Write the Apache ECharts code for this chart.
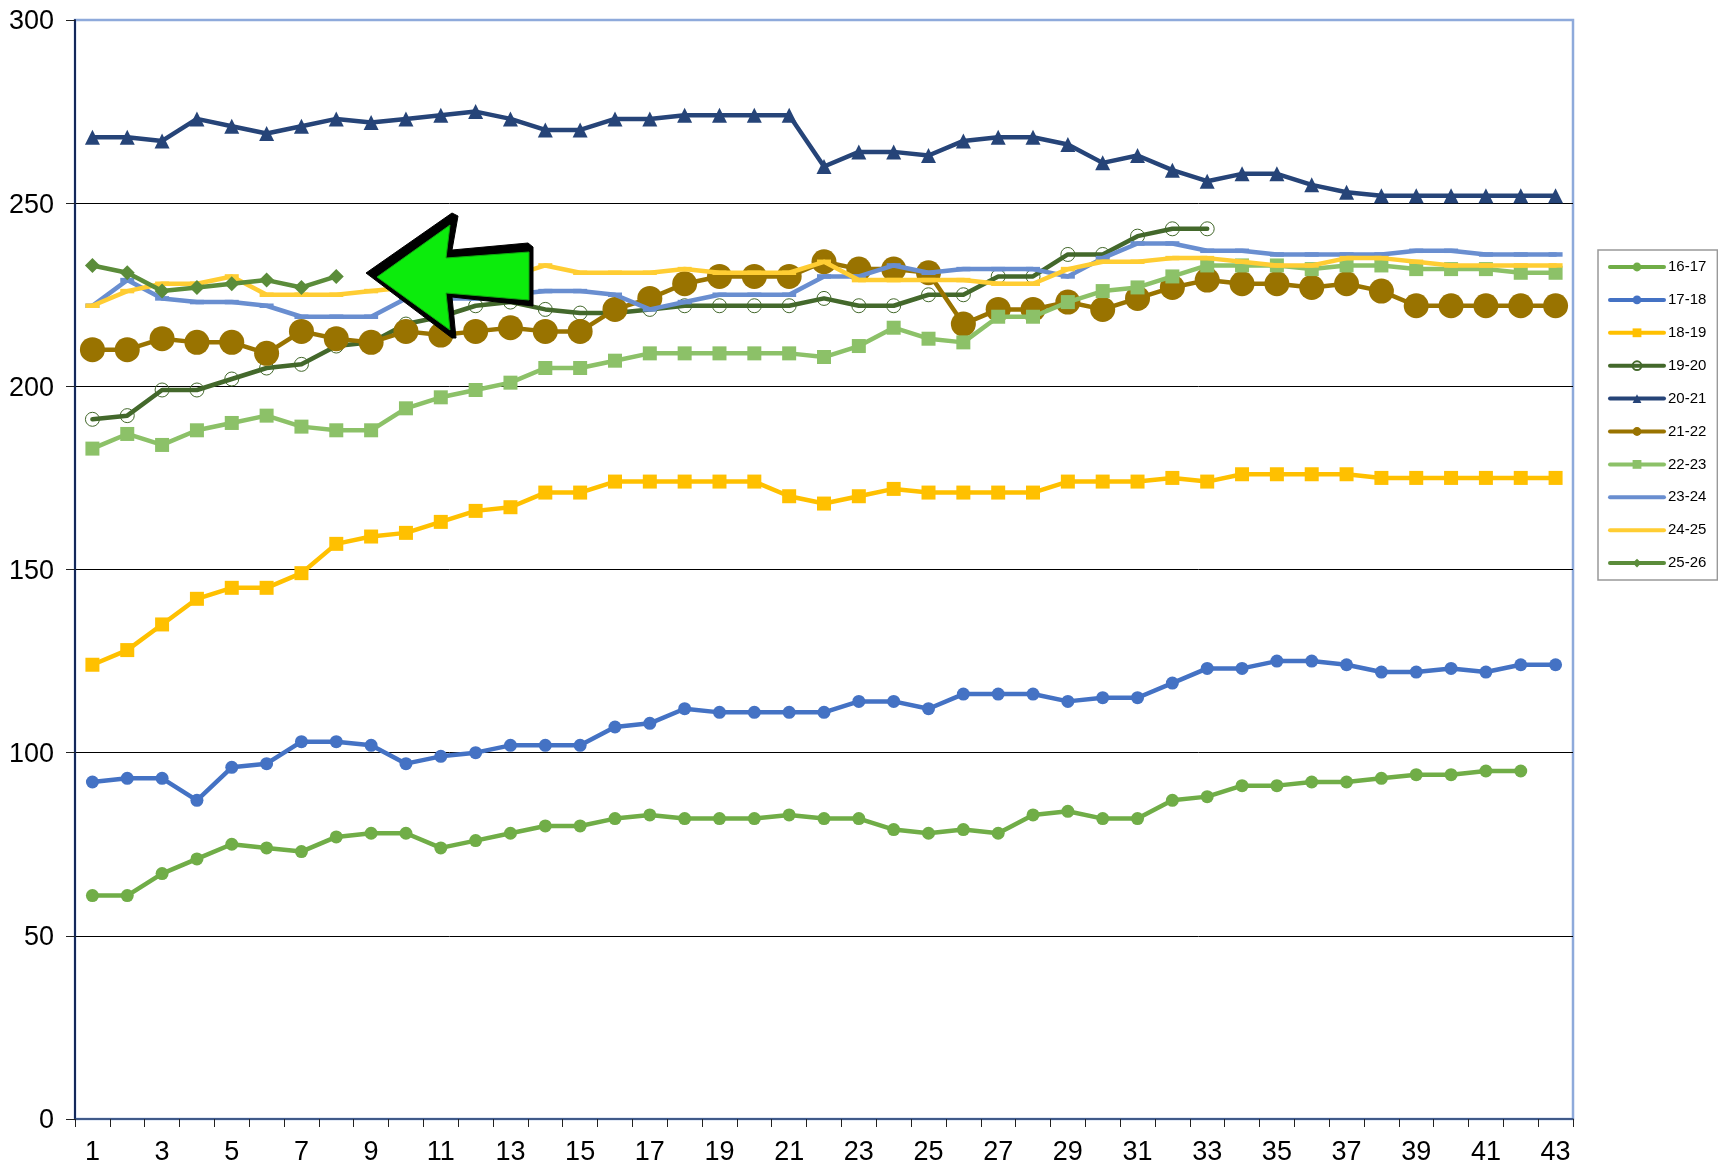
<!DOCTYPE html>
<html>
<head>
<meta charset="utf-8">
<title>chart</title>
<script src="https://cdn.jsdelivr.net/npm/echarts@6/dist/echarts.min.js"></script>
<style>
  html, body { margin: 0; padding: 0; background: #fff; }
  #main { width: 1718px; height: 1167px; }
</style>
</head>
<body>
<div id="main"></div>
<script>
var weeks = [];
for (var w = 1; w <= 43; w++) weeks.push(String(w));

var yTicks = { min: 0, max: 300, interval: 50 };

var s1617 = [61,61,67,71,75,74,73,77,78,78,74,76,78,80,80,82,83,82,82,82,83,82,82,79,78,79,78,83,84,82,82,87,88,91,91,92,92,93,94,94,95,95];
var s1718 = [92,93,93,87,96,97,103,103,102,97,99,100,102,102,102,107,108,112,111,111,111,111,114,114,112,116,116,116,114,115,115,119,123,123,125,125,124,122,122,123,122,124,124];
var s1819 = [124,128,135,142,145,145,149,157,159,160,163,166,167,171,171,174,174,174,174,174,170,168,170,172,171,171,171,171,174,174,174,175,174,176,176,176,176,175,175,175,175,175,175];
var s1920 = [191,192,199,199,202,205,206,211,212,217,219,222,223,221,220,220,221,222,222,222,222,224,222,222,225,225,230,230,236,236,241,243,243];
var s2021 = [268,268,267,273,271,269,271,273,272,273,274,275,273,270,270,273,273,274,274,274,274,260,264,264,263,267,268,268,266,261,263,259,256,258,258,255,253,252,252,252,252,252,252];
var s2122 = [210,210,213,212,212,209,215,213,212,215,214,215,216,215,215,221,224,228,230,230,230,234,232,232,231,217,221,221,223,221,224,227,229,228,228,227,228,226,222,222,222,222,222];
var s2223 = [183,187,184,188,190,192,189,188,188,194,197,199,201,205,205,207,209,209,209,209,209,208,211,216,213,212,219,219,223,226,227,230,233,233,233,232,233,233,232,232,232,231,231];
var s2324 = [222,229,224,223,223,222,219,219,219,224,224,224,225,226,226,225,221,223,225,225,225,230,230,233,231,232,232,232,230,235,239,239,237,237,236,236,236,236,237,237,236,236,236];
var s2425 = [222,226,228,228,230,225,225,225,226,227,227,228,230,233,231,231,231,232,231,231,231,234,229,229,229,229,228,228,232,234,234,235,235,234,233,233,235,235,234,233,233,233,233];
var s2526 = [233,231,226,227,228,229,227,230];

var seasons = ['16-17','17-18','18-19','19-20','20-21','21-22','22-23','23-24','24-25','25-26'];

// arrow drawn over the chart, page pixels
var arrowOuter = [[366,273],[452,213],[458,216],[452,250],[528,243],[533,247],[533,306],[452,297],[456,338],[452,338]];
var arrowInner = [[377,277],[450,225],[446,258],[529,252],[529,300],[446,293],[450,330]];

var nextZ = 3;
function line(name, data, color, symbol, size, extra) {
    var s = {
        name: name,
        type: 'line',
        // each series gets its own z, so a later line runs over earlier markers
        z: nextZ++,
        data: data,
        symbol: symbol,
        symbolSize: size,
        showSymbol: true,
        showAllSymbol: true,
        smooth: false,
        animation: false,
        lineStyle: { color: color, width: 4.5, cap: 'round', join: 'round' },
        itemStyle: { color: color }
    };
    return Object.assign(s, extra || {});
}

var chart = echarts.init(document.getElementById('main'));
var option = {
    backgroundColor: '#fff',
    animation: false,
    textStyle: { fontFamily: 'Liberation Sans' },
    grid: {
        left: 75,
        top: 20,
        width: 1498,
        height: 1099,
        show: true,
        borderColor: '#8eaadb',
        borderWidth: 2.5
    },
    legend: {
        orient: 'vertical',
        left: 1598,
        top: 250,
        width: 118,
        height: 340,
        padding: [9.5, 11, 9.5, 10],
        itemWidth: 54,
        itemHeight: 11,
        itemGap: 17.9,
        borderColor: '#999',
        borderWidth: 1.5,
        lineStyle: { width: 4 },
        data: seasons.map(function (name) {
            // the two plain lines carry no visible marker in the key
            if (name === '23-24' || name === '24-25') {
                return { name: name, itemStyle: { color: 'transparent', borderColor: 'transparent' } };
            }
            return { name: name };
        }),
        textStyle: { fontSize: 15, color: '#000', fontFamily: 'Liberation Sans', padding: [0, 0, 0, -1] }
    },
    xAxis: {
        type: 'category',
        data: weeks,
        boundaryGap: true,
        axisLine: { lineStyle: { color: '#27406f', width: 1.5 } },
        axisTick: { show: true, interval: 0, length: 8, lineStyle: { color: '#222', width: 1 } },
        axisLabel: { interval: 1, fontSize: 27, color: '#000', margin: 20 },
        splitLine: { show: false }
    },
    yAxis: {
        type: 'value',
        min: yTicks.min,
        max: yTicks.max,
        interval: yTicks.interval,
        axisLine: { show: true, lineStyle: { color: '#14285a', width: 2 } },
        axisTick: { show: true, length: 9, lineStyle: { color: '#222', width: 1 } },
        // top-aligned with a negative pad: sits about 2px below the gridline, as in the original
        axisLabel: { fontSize: 27, color: '#000', margin: 21, verticalAlign: 'top', padding: [-11.5, 0, 0, 0] },
        splitLine: { show: true, showMinLine: false, showMaxLine: false, lineStyle: { color: '#000', width: 1 } }
    },
    series: [
        line(seasons[0], s1617, '#70ad47', 'circle', 13),
        line(seasons[1], s1718, '#4472c4', 'circle', 13),
        line(seasons[2], s1819, '#ffc000', 'rect', 14),
        line(seasons[3], s1920, '#43682b', 'circle', 14, {
            itemStyle: { color: 'transparent', borderColor: '#43682b', borderWidth: 1 }
        }),
        line(seasons[4], s2021, '#264478', 'triangle', 15),
        line(seasons[5], s2122, '#997300', 'circle', 25),
        line(seasons[6], s2223, '#8cc168', 'rect', 14),
        line(seasons[7], s2324, '#698ed0', 'rect', [14, 4.5]),
        line(seasons[8], s2425, '#ffcd33', 'rect', [14, 4.5]),
        line(seasons[9], s2526, '#5b8c3a', 'diamond', 15)
    ],
    graphic: [{
        type: 'polygon',
        z: 100,
        shape: { points: arrowOuter },
        style: { fill: '#000', stroke: '#000', lineWidth: 1, lineJoin: 'round' }
    }, {
        type: 'polygon',
        z: 101,
        shape: { points: arrowInner },
        style: { fill: '#0cec0c', stroke: '#0fa80f', lineWidth: 1 }
    }]
};
chart.setOption(option);
window.onresize = function () {
    chart.resize();
};
</script>
</body>
</html>
